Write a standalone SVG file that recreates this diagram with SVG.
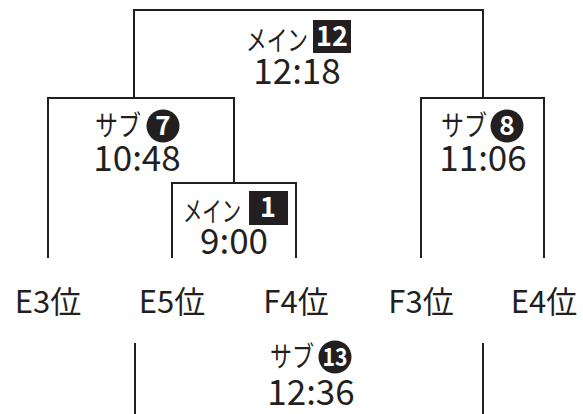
<svg xmlns="http://www.w3.org/2000/svg" width="583" height="414" viewBox="0 0 583 414">
<style>
.ln{fill:none;stroke:#231f20;stroke-width:2}
.t{font-family:"Noto Sans CJK JP","Noto Sans",sans-serif;fill:#231f20}
.lb{font-size:28px}
.tm{font-size:35px;text-anchor:middle}
.pos{font-size:31px;text-anchor:middle}
.num{font-family:"Noto Sans CJK JP","Noto Sans",sans-serif;fill:#fff;font-weight:bold;text-anchor:middle}
.blk{fill:#231f20}
</style>
<rect width="583" height="414" fill="#fff"/>
<g id="connectors">
<path class="ln" d="M134,98 V10 H483 V98"/>
<path class="ln" d="M48,258 V98 H234 V183"/>
<path class="ln" d="M172,258 V183 H296 V258"/>
<path class="ln" d="M421,258 V98 H544 V258"/>
<path class="ln" d="M135,343 V414 M483,343 V414"/>
</g>
<g id="main12">
<text class="t lb" x="246" y="51" textLength="62" lengthAdjust="spacingAndGlyphs">メイン</text>
<rect class="blk" x="313" y="20" width="38" height="33"/>
<text class="num" x="332" y="46" font-size="27">12</text>
<text class="t tm" x="297" y="84">12:18</text>
</g>
<g id="sub7">
<text class="t lb" x="95" y="136" textLength="46" lengthAdjust="spacingAndGlyphs">サブ</text>
<circle class="blk" cx="163" cy="126" r="16.5"/>
<text class="num" x="163" y="135" font-size="26">7</text>
<text class="t tm" x="137" y="171">10:48</text>
</g>
<g id="main1">
<text class="t lb" x="183" y="222" textLength="58" lengthAdjust="spacingAndGlyphs">メイン</text>
<rect class="blk" x="249" y="191" width="39" height="34"/>
<text class="num" x="268" y="217" font-size="27">1</text>
<text class="t tm" x="234" y="254">9:00</text>
</g>
<g id="sub8">
<text class="t lb" x="441" y="136" textLength="46" lengthAdjust="spacingAndGlyphs">サブ</text>
<circle class="blk" cx="507" cy="126" r="16.5"/>
<text class="num" x="507" y="135" font-size="26">8</text>
<text class="t tm" x="483" y="171">11:06</text>
</g>
<g id="sub13">
<text class="t lb" x="270" y="367" textLength="44" lengthAdjust="spacingAndGlyphs">サブ</text>
<circle class="blk" cx="335" cy="357" r="16.5"/>
<text class="num" x="335" y="366" font-size="25" textLength="25" lengthAdjust="spacingAndGlyphs">13</text>
<text class="t tm" x="311" y="405">12:36</text>
</g>
<g id="labels">
<text class="t pos" x="48" y="313">E3位</text>
<text class="t pos" x="172" y="313">E5位</text>
<text class="t pos" x="296" y="313">F4位</text>
<text class="t pos" x="421" y="313">F3位</text>
<text class="t pos" x="544" y="313">E4位</text>
</g>
</svg>
